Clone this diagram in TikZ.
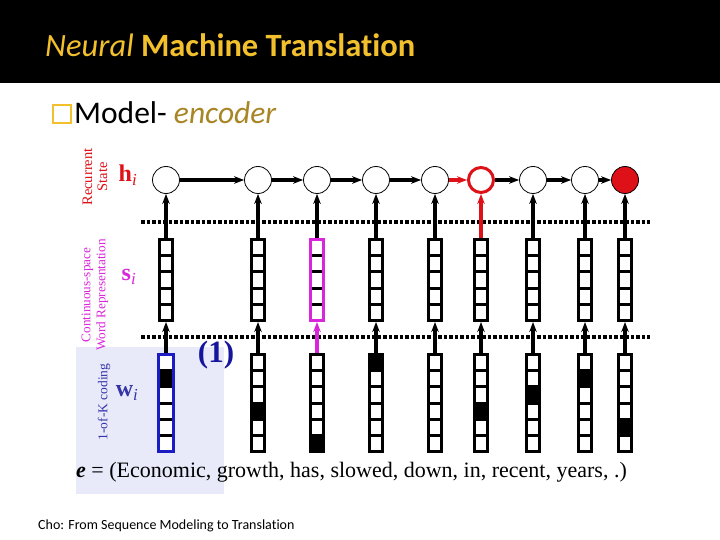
\documentclass[tikz,border=0pt]{standalone}
\usepackage{fontspec}
\setmainfont{Liberation Serif}
\newfontfamily\slidefont[Ligatures=NoCommon]{Carlito}
\usetikzlibrary{arrows.meta, calc}

\definecolor{titlegold}{RGB}{242,192,44}
\definecolor{encgold}{RGB}{168,134,38}
\definecolor{stred}{RGB}{222,16,24}
\definecolor{wrmag}{RGB}{218,38,218}
\definecolor{okblue}{RGB}{28,28,196}
\definecolor{oklab}{RGB}{52,52,168}
\definecolor{lav}{RGB}{232,234,250}

\tikzset{
  % --- Zustand (Kreise) --------------------------------------
  hcirc/.style={draw, circle, fill=white, minimum size=27pt, inner sep=0pt,
    line width=0.8pt},
  hred/.style={hcirc, draw=stred, line width=3pt, minimum size=25pt},
  hfull/.style={hcirc, fill=stred},
  % --- Vektoren ----------------------------------------------
  cells/.style={path picture={
    \foreach \k in {1,...,#1}
      \draw[black, line width=3pt]
        ($(path picture bounding box.north west)!{\k/#1}!(path picture bounding box.south west)$) --
        ($(path picture bounding box.north east)!{\k/#1}!(path picture bounding box.south east)$);}},
  sbar/.style={draw, fill=white, line width=3pt, minimum width=13pt,
    minimum height=81pt, inner sep=0pt, cells=5},
  % #1 = index of the black cell, 6 = none
  wbar/.style={draw, fill=white, line width=3pt, minimum width=13pt,
    minimum height=97pt, inner sep=0pt, path picture={
    \fill[black] ($(path picture bounding box.north west)!{#1/6}!(path picture bounding box.south west)$)
      rectangle ($(path picture bounding box.north east)!{(#1+1)/6}!(path picture bounding box.south east)$);
    \foreach \k in {1,...,6}
      \draw[black, line width=3pt]
        ($(path picture bounding box.north west)!{\k/6}!(path picture bounding box.south west)$) --
        ($(path picture bounding box.north east)!{\k/6}!(path picture bounding box.south east)$);}},
  wbar/.default=6,
  % --- Pfeile / Linien ---------------------------------------
  arr/.style={-{Stealth[length=10pt,width=7.5pt]}, line width=3.2pt},
  sepline/.style={line width=3.2pt, dash pattern=on 3.5pt off 2pt},
  side/.style={rotate=90, align=center, font=\fontsize{14.5}{15}\selectfont},
  symlab/.style={font=\fontsize{24}{25}\selectfont},
}

\begin{document}
\begin{tikzpicture}[x=1pt, y=-1pt]

  % --- Folie ------------------------------------------------
  \fill[white] (0,0) rectangle (720,540);
  \fill[black] (0,0) rectangle (720,83);
  \useasboundingbox (0,0) rectangle (720,540);
  \node[anchor=base west, text=titlegold, inner sep=0pt,
    font=\slidefont\fontsize{32.5}{34}\selectfont] (title) at (45,57)
    {\textit{Neural} \textbf{Machine Translation}};
  \node[draw=titlegold, line width=1.3pt, minimum size=18pt, inner sep=0pt] (bullet) at (62,114) {};
  \node[anchor=base west, inner sep=0pt, font=\slidefont\fontsize{31.5}{33}\selectfont] (model) at (74,124)
    {Model- \textcolor{encgold}{\textit{encoder}}};
  \node[anchor=base west, inner sep=0pt, font=\slidefont\fontsize{14}{15}\selectfont] (cite) at (38,529)
    {Cho: From Sequence Modeling to Translation};

  % --- Hintergrund 1-of-K -----------------------------------
  \fill[lav] (76,347) rectangle (224,494);
  \draw[sepline] (141,222) -- (650,222);
  \draw[sepline] (141,337) -- (650,337);

  % --- Beschriftung links -----------------------------------
  \node[side, text=stred] (lrec) at (95,177) {Recurrent\\State};
  \node[side, text=wrmag, font=\fontsize{13.2}{15}\selectfont] (lcont) at (95,295)
    {Continuous-space\\Word Representation};
  \node[side, text=oklab, font=\fontsize{13.5}{14}\selectfont] (lkod) at (104,402) {1-of-K coding};
  \node[symlab, text=stred] (hlab) at (128,175) {\textbf{h}\textsubscript{\textit{i}}};
  \node[symlab, text=wrmag] (slab) at (129,277) {\textbf{s}\textsubscript{\textit{i}}};
  \node[symlab, text=oklab] (wlab) at (127,393) {\textbf{w}\textsubscript{\textit{i}}};
  \node[text=okblue!80!black, font=\fontsize{31}{32}\selectfont\bfseries] (one) at (216,355) {(1)};

  % --- Zustaende h_i ----------------------------------------
  \node[hcirc] (h1) at (166,180) {};
  \node[hcirc] (h2) at (258,180) {};
  \node[hcirc] (h3) at (317,180) {};
  \node[hcirc] (h4) at (376,180) {};
  \node[hcirc] (h5) at (435,180) {};
  \node[hred]  (h6) at (481,180) {};
  \node[hcirc] (h7) at (533,180) {};
  \node[hcirc] (h8) at (585,180) {};
  \node[hfull] (h9) at (625,180) {};

  % --- Wortvektoren s_i -------------------------------------
  \node[sbar] (s1) at (166,280) {};
  \node[sbar] (s2) at (258,280) {};
  \node[sbar, draw=wrmag] (s3) at (317,280) {};
  \node[sbar] (s4) at (376,280) {};
  \node[sbar] (s5) at (435,280) {};
  \node[sbar] (s6) at (481,280) {};
  \node[sbar] (s7) at (533,280) {};
  \node[sbar] (s8) at (585,280) {};
  \node[sbar] (s9) at (625,280) {};

  % --- One-hot w_i ------------------------------------------
  \node[wbar=1, draw=okblue, minimum width=15pt] (w1) at (166,403) {};
  \node[wbar=3] (w2) at (258,403) {};
  \node[wbar=5] (w3) at (317,403) {};
  \node[wbar=0] (w4) at (376,403) {};
  \node[wbar]   (w5) at (435,403) {};
  \node[wbar=3] (w6) at (481,403) {};
  \node[wbar=2] (w7) at (533,403) {};
  \node[wbar=1] (w8) at (585,403) {};
  \node[wbar=4] (w9) at (625,403) {};

  \node[anchor=base west, inner sep=0pt, font=\fontsize{22}{23}\selectfont] (sent) at (76,477)
    {\textbf{\textit{e}} = (Economic, growth, has, slowed, down, in, recent, years, .)};

  % --- Verbindungen -----------------------------------------
  \draw[arr] (h1) -- (h2);
  \draw[arr] (h2) -- (h3);
  \draw[arr] (h3) -- (h4);
  \draw[arr] (h4) -- (h5);
  \draw[arr, stred] (h5) -- (h6);
  \draw[arr] (h6) -- (h7);
  \draw[arr] (h7) -- (h8);
  \draw[arr] (h8) -- (h9);

  \draw[arr] (s1) -- (h1);
  \draw[arr] (s2) -- (h2);
  \draw[arr] (s3) -- (h3);
  \draw[arr] (s4) -- (h4);
  \draw[arr] (s5) -- (h5);
  \draw[arr, stred] (s6) -- (h6);
  \draw[arr] (s7) -- (h7);
  \draw[arr] (s8) -- (h8);
  \draw[arr] (s9) -- (h9);

  \draw[arr] (w1) -- (s1);
  \draw[arr] (w2) -- (s2);
  \draw[arr, wrmag] (w3) -- (s3);
  \draw[arr] (w4) -- (s4);
  \draw[arr] (w5) -- (s5);
  \draw[arr] (w6) -- (s6);
  \draw[arr] (w7) -- (s7);
  \draw[arr] (w8) -- (s8);
  \draw[arr] (w9) -- (s9);

\end{tikzpicture}
\end{document}
